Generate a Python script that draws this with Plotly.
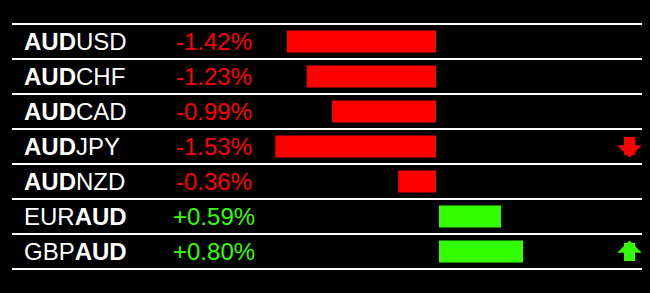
import plotly.graph_objects as go

pairs_base = ["AUD", "AUD", "AUD", "AUD", "AUD", "EUR", "GBP"]
pairs_quote = ["USD", "CHF", "CAD", "JPY", "NZD", "AUD", "AUD"]
changes = [-1.42, -1.23, -0.99, -1.53, -0.36, 0.59, 0.80]
arrows = ["", "", "", "down", "", "", "up"]

RED = "#ff0000"
GREEN = "#33ff00"
W, H = 650, 293
PX_PER_PCT = 105.0
ROW_H = 35.0
FIRST_CENTER = 41.5

rows = list(range(len(changes)))
neg_x = [c if c < 0 else None for c in changes]
pos_x = [c if c > 0 else None for c in changes]

fig = go.Figure()
fig.add_trace(go.Bar(x=neg_x, y=rows, orientation="h", marker=dict(color=RED, line_width=0),
                     width=22 / ROW_H, xaxis="x", yaxis="y", hoverinfo="skip"))
fig.add_trace(go.Bar(x=pos_x, y=rows, orientation="h", marker=dict(color=GREEN, line_width=0),
                     width=22 / ROW_H, xaxis="x2", yaxis="y", hoverinfo="skip"))

annotations = []
for i, (b, q, c, a) in enumerate(zip(pairs_base, pairs_quote, changes, arrows)):
    if b == "AUD":
        label = "<b>AUD</b>" + q
    else:
        label = b + "<b>AUD</b>"
    annotations.append(dict(x=22 / W, xref="paper", y=i, yref="y", text=label, showarrow=False,
                            xanchor="left", yanchor="middle",
                            font=dict(family="Liberation Sans, Arial", size=24, color="white")))
    col = RED if c < 0 else GREEN
    annotations.append(dict(x=214 / W, xref="paper", y=i, yref="y", text=f"{c:+.2f}%", showarrow=False,
                            xanchor="center", yanchor="middle",
                            font=dict(family="Liberation Sans, Arial", size=24, color=col)))
    if a:
        tip = 11 / ROW_H
        annotations.append(dict(x=629.5 / W, xref="paper",
                                y=i + (tip if a == "down" else -tip), yref="y",
                                text="", showarrow=True, ax=0, ay=(-22 if a == "down" else 22),
                                arrowhead=1, arrowsize=0.37, arrowwidth=11,
                                arrowcolor=(RED if a == "down" else GREEN)))

shapes = []
for k in range(len(changes) + 1):
    shapes.append(dict(type="line", xref="paper", yref="y", x0=12 / W, x1=642 / W,
                       y0=k - 0.5, y1=k - 0.5, line=dict(color="white", width=2)))

y_top = -FIRST_CENTER / ROW_H
y_bot = (H - FIRST_CENTER) / ROW_H

fig.update_layout(
    width=W, height=H, margin=dict(l=0, r=0, t=0, b=0),
    paper_bgcolor="black", plot_bgcolor="black", showlegend=False,
    barmode="overlay",
    xaxis=dict(range=[-436 / PX_PER_PCT, (W - 436) / PX_PER_PCT], domain=[0, 1], visible=False, fixedrange=True),
    xaxis2=dict(range=[-439 / PX_PER_PCT, (W - 439) / PX_PER_PCT], domain=[0, 1], overlaying="x",
                visible=False, fixedrange=True),
    yaxis=dict(range=[y_bot, y_top], visible=False, fixedrange=True),
    annotations=annotations, shapes=shapes,
)
fig.write_html("out.html", config={"displayModeBar": False})
